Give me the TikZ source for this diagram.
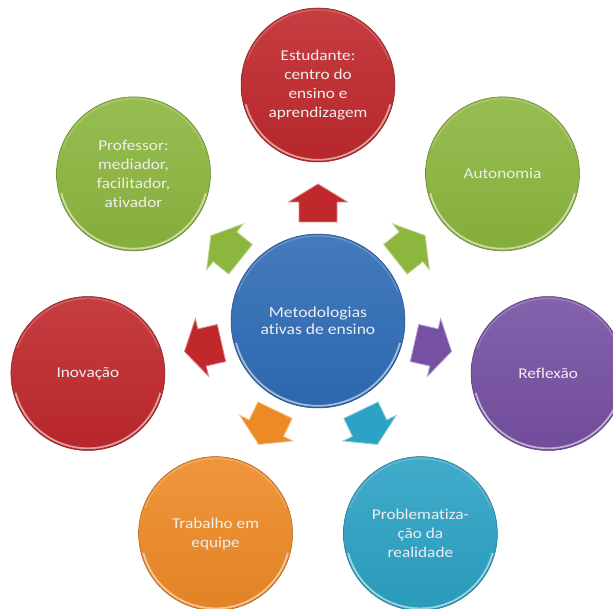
\documentclass[tikz,border=0pt]{standalone}
\usepackage{fontspec}
\setmainfont{Carlito}[FakeStretch=1.15, Ligatures=NoCommon]
\usetikzlibrary{calc}

\definecolor{bRed}{RGB}{192,40,44}
\definecolor{bGreen}{RGB}{140,182,62}
\definecolor{bBlue}{RGB}{47,108,182}
\definecolor{bPurple}{RGB}{118,80,162}
\definecolor{bOrange}{RGB}{238,138,38}
\definecolor{bTeal}{RGB}{44,162,196}
\definecolor{txtcol}{RGB}{238,238,238}

\tikzset{
  % glossy disc with a light inner rim
  disc/.style 2 args={circle, minimum size=#2, inner sep=0pt, align=center,
    text=txtcol, top color=#1!90!white, bottom color=#1!95!black,
    draw=#1!70!black, line width=.5pt,
    path picture={
      \draw[white, opacity=.55, line width=1.8pt]
        ([shift={(195:#2/2-2.2pt)}]path picture bounding box.center)
        arc[start angle=195, end angle=345, radius=#2/2-2.2pt];
      \draw[white, opacity=.2, line width=1.2pt]
        ([shift={(20:#2/2-2pt)}]path picture bounding box.center)
        arc[start angle=20, end angle=160, radius=#2/2-2pt];
    }},
  bubble/.style={disc={#1}{154pt}, font=\fontsize{15}{19}\selectfont},
  hub/.style={disc={bBlue}{174pt}, font=\fontsize{15.3}{17.5}\selectfont},
  blockarrow/.style={fill=#1, draw=#1!55!white, line width=.8pt, line join=miter},
}

\begin{document}
\begin{tikzpicture}[x=1pt,y=1pt]
\useasboundingbox (0,0) rectangle (613,609);
\begin{scope}
\clip (0,0) rectangle (613,609);
\coordinate (c) at (318,288);

% outward arrows around the hub
\foreach \ang/\col in {90/bRed, 38.571/bGreen, -12.857/bPurple, -64.286/bTeal,
                       -115.714/bOrange, -167.143/bRed, 141.429/bGreen}{
  \begin{scope}[shift={(c)}, rotate=\ang]
    \path[blockarrow=\col] (99,-19) -- (119,-19) -- (119,-29.5) -- (137,0)
      -- (119,29.5) -- (119,19) -- (99,19) -- cycle;
  \end{scope}
}

% hub and satellites
\node[hub] (hub) at (c) {Metodologias\\ativas de ensino};
\node[bubble=bRed] (estudante) at ($(c)+(90:236)$) {Estudante:\\centro do\\ensino e\\aprendizagem};
\node[bubble=bGreen] (autonomia) at ($(c)+(38.571:236)$) {Autonomia};
\node[bubble=bPurple] (reflexao) at ($(c)+(-12.857:236)$) {Reflexão};
\node[bubble=bTeal] (problema) at ($(c)+(-64.286:236)$) {Problematiza-\\ção da\\realidade};
\node[bubble=bOrange] (trabalho) at ($(c)+(-115.714:236)$) {Trabalho em\\equipe};
\node[bubble=bRed] (inovacao) at ($(c)+(-167.143:236)$) {Inovação};
\node[bubble=bGreen] (professor) at ($(c)+(141.429:236)$) {Professor:\\mediador,\\facilitador,\\ativador};
\end{scope}
\end{tikzpicture}
\end{document}
